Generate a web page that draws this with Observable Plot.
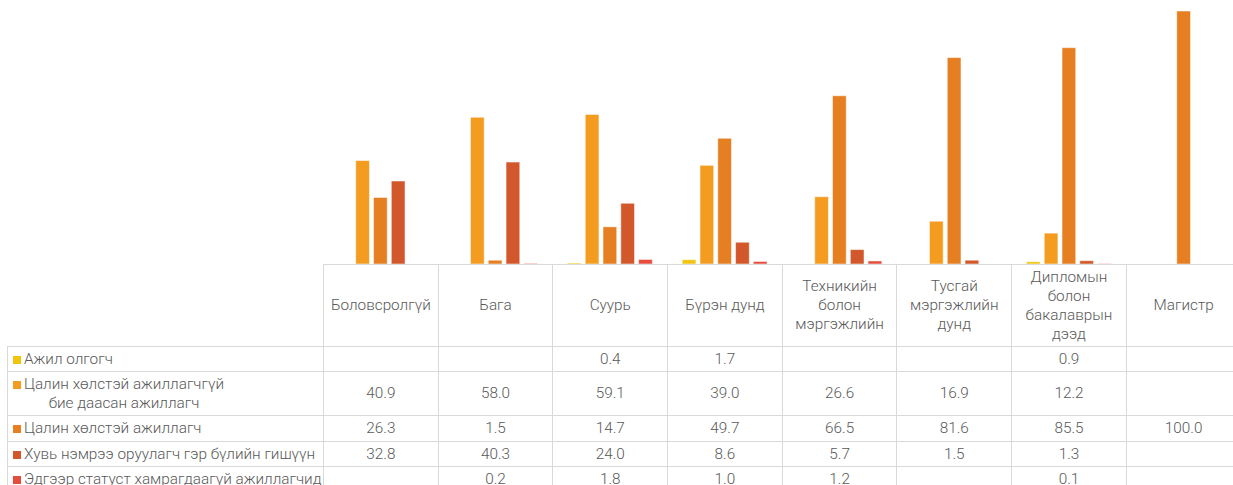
<!DOCTYPE html>
<html><head><meta charset="utf-8">
<script src="https://cdn.jsdelivr.net/npm/d3@7"></script>
<script src="https://cdn.jsdelivr.net/npm/@observablehq/plot@0.6"></script>
<style>
html,body{margin:0;padding:0;background:#fff;overflow:hidden;width:1233px;height:485px}
#wrap{position:relative;width:1241px;height:485px;font-family:Roboto,"Noto Sans",sans-serif;}
#chart{position:absolute;left:0;top:0}
table{position:absolute;left:7px;top:264px;width:1233.6px;border-collapse:collapse;table-layout:fixed;color:#595959;font-size:15.3px;font-weight:300;font-family:Roboto,sans-serif}
td{border:1px solid #d9d9d9;text-align:center;padding:0;line-height:19px;white-space:pre-line;vertical-align:middle;overflow:visible}
td.lab{text-align:left;padding-left:5px;white-space:pre}
.lw{display:inline-flex;align-items:flex-start;white-space:pre}
.key{flex:none;width:8px;height:8px;margin-right:3px;margin-top:6px}
.lt{text-align:center;white-space:pre}
td.blank{border-top:none;border-left:none}
</style>
</head><body>
<div id="wrap"><div id="chart"></div><table id="tbl"></table></div>
<script>
const categories = ["Боловсролгүй","Бага","Суурь","Бүрэн дунд","Техникийн\nболон\nмэргэжлийн","Тусгай\nмэргэжлийн\nдунд","Дипломын\nболон\nбакалаврын\nдээд","Магистр"];
const seriesNames = ["Ажил олгогч","Цалин хөлстэй ажиллагчгүй\nбие даасан ажиллагч","Цалин хөлстэй ажиллагч","Хувь нэмрээ оруулагч гэр бүлийн гишүүн","Эдгээр статуст хамрагдаагүй ажиллагчид"];
const employer      = [null, null, 0.4, 1.7, null, null, 0.9, null];
const selfEmployed  = [40.9, 58.0, 59.1, 39.0, 26.6, 16.9, 12.2, null];
const paidEmployee  = [26.3, 1.5, 14.7, 49.7, 66.5, 81.6, 85.5, 100.0];
const familyWorker  = [32.8, 40.3, 24.0, 8.6, 5.7, 1.5, 1.3, null];
const notClassified = [null, 0.2, 1.8, 1.0, 1.2, null, 0.1, null];
const colors = ["#F1C40F","#F39C1F","#E67E22","#D2572A","#E74C3C"];

const values = [employer, selfEmployed, paidEmployee, familyWorker, notClassified];
const data = [];
categories.forEach((c,i)=>seriesNames.forEach((s,j)=>{const v=values[j][i]; if(v!=null) data.push({cat:c,ser:s,v});}));

const chart = Plot.plot({
  width:1241, height:265, marginLeft:323, marginRight:0, marginTop:11, marginBottom:1,
  fx:{domain:categories, padding:0, round:false, axis:null, label:null},
  x:{domain:seriesNames, paddingInner:0.23, paddingOuter:0.84, round:false, axis:null},
  y:{domain:[0,100], axis:null},
  color:{domain:seriesNames, range:colors},
  marks:[Plot.barY(data,{fx:"cat", x:"ser", y:"v", fill:"ser", stroke:"white", strokeOpacity:0.5, strokeWidth:1})]
});
document.getElementById("chart").appendChild(chart);

const tbl = document.getElementById("tbl");
const cg = document.createElement("colgroup");
const c0 = document.createElement("col"); c0.style.width="316px"; cg.appendChild(c0);
categories.forEach(()=>{const c=document.createElement("col"); c.style.width="114.7px"; cg.appendChild(c);});
tbl.appendChild(cg);
const hr = document.createElement("tr"); hr.style.height="82px";
const h0 = document.createElement("td"); h0.className="blank"; hr.appendChild(h0);
categories.forEach(c=>{const td=document.createElement("td"); td.textContent=c; hr.appendChild(td);});
tbl.appendChild(hr);
const rowH = [25,44,26,25,25];
seriesNames.forEach((s,j)=>{
  const tr=document.createElement("tr"); tr.style.height=rowH[j]+"px";
  const lab=document.createElement("td"); lab.className="lab";
  const w=document.createElement("span"); w.className="lw";
  const k=document.createElement("span"); k.className="key"; k.style.background=colors[j];
  const t=document.createElement("span"); t.className="lt"; t.textContent=s;
  w.appendChild(k); w.appendChild(t); lab.appendChild(w); tr.appendChild(lab);
  values[j].forEach(v=>{const td=document.createElement("td"); td.textContent = v==null?"":v.toFixed(1); tr.appendChild(td);});
  tbl.appendChild(tr);
});
</script>
</body></html>
